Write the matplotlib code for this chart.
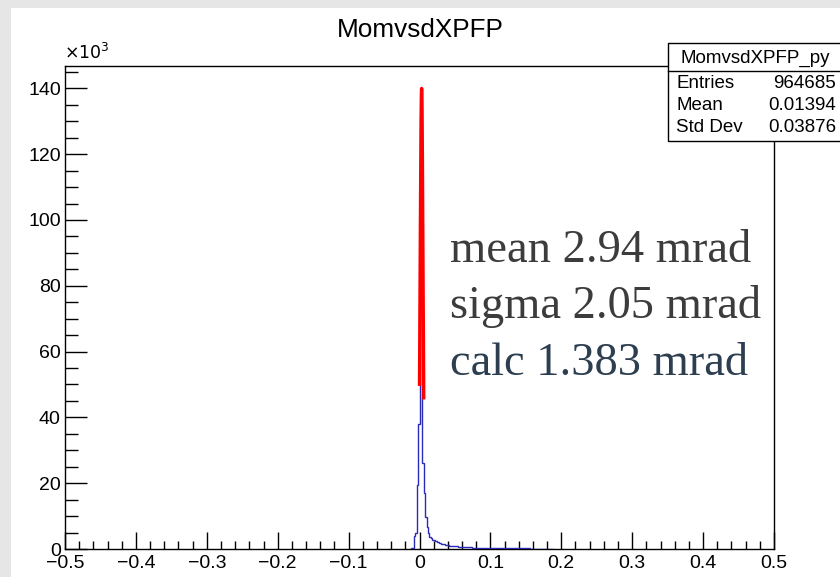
import numpy as np
import matplotlib.pyplot as plt
from matplotlib.patches import Rectangle
from matplotlib.ticker import MultipleLocator

# histogram of dXPFP, 0.002 wide bins starting at -0.012, counts in thousands
bin_start = -0.012
bin_width = 0.002
counts = [
    0.2, 0.4, 4.0, 5.0, 19.5, 38.0, 105.0, 140.0, 26.0, 17.0,
    9.8, 6.7, 4.8, 3.7, 3.2, 2.8, 2.7, 2.5, 2.1, 2.0,
    1.8, 1.6, 1.5, 1.4, 1.3, 1.2, 1.1, 1.0, 1.0, 0.9,
    0.85, 0.8, 0.8, 0.75, 0.7, 0.65, 0.6, 0.6, 0.55, 0.55,
    0.5, 0.5, 0.5, 0.45, 0.45, 0.4, 0.35, 0.35, 0.35, 0.35,
    0.3, 0.3, 0.3, 0.3, 0.3, 0.3, 0.28, 0.28, 0.28, 0.28,
    0.25, 0.25, 0.25, 0.25, 0.25, 0.22, 0.22, 0.22, 0.22, 0.22,
    0.2, 0.2, 0.2, 0.2, 0.2, 0.18, 0.18, 0.18, 0.18, 0.18,
    0.16, 0.16, 0.16, 0.16, 0.15, 0.15, 0.15, 0.14, 0.14, 0.14,
    0.13, 0.13, 0.12, 0.12, 0.12, 0.11, 0.11, 0.1, 0.1, 0.1,
    0.1,
]

# gaussian fit (mrad -> rad), amplitude in thousands
fit_mean = 2.94e-3
fit_sigma = 2.05e-3
fit_amp = 140.0
fit_range = (0.0, 0.006)

stats_labels = ["Entries", "Mean", "Std Dev"]
stats_values = ["964685", "0.01394", "0.03876"]
notes = ["mean 2.94 mrad", "sigma 2.05 mrad", "calc 1.383 mrad"]

sans = ["Liberation Sans", "DejaVu Sans"]
serif = ["Liberation Serif", "DejaVu Serif"]
plt.rcParams["font.family"] = sans

W, H = 840, 577
fig = plt.figure(figsize=(W / 100, H / 100), dpi=100, facecolor="#e6e6e6")
fig.add_artist(Rectangle((11 / W, 0), 1, 1 - 8 / H, transform=fig.transFigure,
                         facecolor="white", edgecolor="none", zorder=-1))

ax = fig.add_axes([65 / W, 1 - 549 / H, (774 - 65) / W, (549 - 66) / H])
ax.set_facecolor("none")

edges = bin_start + bin_width * np.arange(len(counts) + 1)
ax.stairs(counts, edges, baseline=0, color="#2a2ab8", lw=1.0, zorder=3)

fx = np.linspace(fit_range[0], fit_range[1], 200)
fy = fit_amp * np.exp(-0.5 * ((fx - fit_mean) / fit_sigma) ** 2)
ax.plot(fx, fy, color="red", lw=2.4, zorder=4)


def tick_fmt(v, pos):
    v = round(v, 3)
    if v == 0:
        return "0"
    return f"{v:g}".replace("-", "\u2212")


ax.set_xlim(-0.5, 0.5)
ax.set_ylim(0, 146.8)
ax.xaxis.set_major_locator(MultipleLocator(0.1))
ax.xaxis.set_minor_locator(MultipleLocator(0.02))
ax.yaxis.set_major_locator(MultipleLocator(20))
ax.yaxis.set_minor_locator(MultipleLocator(5))
ax.xaxis.set_major_formatter(plt.FuncFormatter(tick_fmt))
ax.tick_params(which="both", direction="in", top=False, right=False,
               labelsize=14, width=1, color="black")
ax.tick_params(axis="x", which="major", length=12, pad=4)
ax.tick_params(axis="x", which="minor", length=5.5)
ax.tick_params(axis="y", which="major", length=16, pad=3)
ax.tick_params(axis="y", which="minor", length=9)
for s in ax.spines.values():
    s.set_linewidth(1.0)

fig.text(64 / W, 1 - 59 / H, r"$\times10^{3}$", fontsize=12.5, ha="left", va="baseline")
fig.text(420 / W, 1 - 30 / H, "MomvsdXPFP", fontsize=18.8, ha="center", va="center")

# stats box in the top right corner
box_top, box_bot, box_left = 43, 141, 668
fig.add_artist(Rectangle((box_left / W, 1 - box_bot / H), 0.4, (box_bot - box_top) / H,
                         transform=fig.transFigure, facecolor="white",
                         edgecolor="black", lw=1.0, zorder=5))
fig.add_artist(plt.Line2D([box_left / W, 1], [1 - 71 / H] * 2, transform=fig.transFigure,
                          color="black", lw=1.0, zorder=6))
fig.text(755 / W, 1 - 58 / H, "MomvsdXPFP_py", fontsize=13.5, ha="center", va="center", zorder=7)
for i, (lab, val) in enumerate(zip(stats_labels, stats_values)):
    y = 1 - (83 + 22.5 * i) / H
    fig.text(676 / W, y, lab, fontsize=13.5, ha="left", va="center", zorder=7)
    fig.text(836 / W, y, val, fontsize=13.5, ha="right", va="center", zorder=7)

note_colors = ["#3c3c3c", "#3c3c3c", "#2c3e50"]
for i, (txt, c) in enumerate(zip(notes, note_colors)):
    fig.text(450 / W, 1 - (262 + 56.5 * i) / H, txt, fontsize=33.5, family=serif,
             color=c, ha="left", va="baseline")

fig.savefig("out.png", dpi=100, facecolor=fig.get_facecolor())
